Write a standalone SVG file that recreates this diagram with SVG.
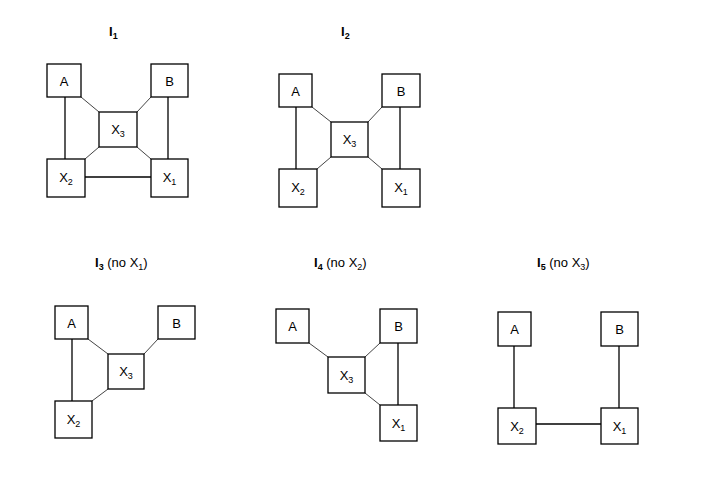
<svg xmlns="http://www.w3.org/2000/svg" width="715" height="479" viewBox="0 0 715 479">
  <style>
    .box { fill: #fff; stroke: #000; stroke-width: 1.3; }
    .edge { stroke: #000; stroke-width: 1.3; fill: none; }
    .diag { stroke: #444; stroke-width: 1; fill: none; }
    text { font-family: "Liberation Sans", Arial, sans-serif; font-size: 13px; fill: #000; }
    .lbl { text-anchor: middle; }
    .title { font-size: 13px; }
    .b { font-weight: bold; }
    .sub { font-size: 9px; }
  </style>
  <rect width="715" height="479" fill="#fff"/>

  <!-- Titles -->
  <g id="titles">
    <text class="title" x="109" y="36"><tspan class="b">I</tspan><tspan class="b sub" dy="3">1</tspan></text>
    <text class="title" x="341" y="36"><tspan class="b">I</tspan><tspan class="b sub" dy="3">2</tspan></text>
    <text class="title" x="95" y="267"><tspan class="b">I</tspan><tspan class="b sub" dy="3">3</tspan><tspan dy="-3"> (no X</tspan><tspan class="sub" dy="3">1</tspan><tspan dy="-3">)</tspan></text>
    <text class="title" x="314" y="267"><tspan class="b">I</tspan><tspan class="b sub" dy="3">4</tspan><tspan dy="-3"> (no X</tspan><tspan class="sub" dy="3">2</tspan><tspan dy="-3">)</tspan></text>
    <text class="title" x="537" y="267"><tspan class="b">I</tspan><tspan class="b sub" dy="3">5</tspan><tspan dy="-3"> (no X</tspan><tspan class="sub" dy="3">3</tspan><tspan dy="-3">)</tspan></text>
  </g>

  <!-- Connectors -->
  <g id="connectors">
    <!-- I1 -->
    <line class="edge" x1="65" y1="97" x2="65" y2="159"/>
    <line class="edge" x1="168" y1="97" x2="168" y2="159"/>
    <line class="edge" x1="85" y1="177" x2="151" y2="177"/>
    <line class="diag" x1="81" y1="97" x2="99" y2="112"/>
    <line class="diag" x1="151" y1="97" x2="137" y2="112"/>
    <line class="diag" x1="99" y1="147" x2="85" y2="159"/>
    <line class="diag" x1="137" y1="147" x2="151" y2="159"/>
    <!-- I2 -->
    <line class="edge" x1="296" y1="107" x2="296" y2="169"/>
    <line class="edge" x1="400" y1="107" x2="400" y2="169"/>
    <line class="diag" x1="312" y1="107" x2="331" y2="122"/>
    <line class="diag" x1="382" y1="107" x2="368" y2="122"/>
    <line class="diag" x1="331" y1="157" x2="317" y2="169"/>
    <line class="diag" x1="368" y1="157" x2="382" y2="169"/>
    <!-- I3 -->
    <line class="edge" x1="72" y1="339" x2="72" y2="401"/>
    <line class="diag" x1="88" y1="339" x2="108" y2="354"/>
    <line class="diag" x1="158" y1="339" x2="144" y2="354"/>
    <line class="diag" x1="108" y1="389" x2="92" y2="401"/>
    <!-- I4 -->
    <line class="edge" x1="398" y1="343" x2="398" y2="405"/>
    <line class="diag" x1="309" y1="343" x2="328" y2="357"/>
    <line class="diag" x1="380" y1="343" x2="365" y2="357"/>
    <line class="diag" x1="365" y1="393" x2="380" y2="405"/>
    <!-- I5 -->
    <line class="edge" x1="514" y1="346" x2="514" y2="408"/>
    <line class="edge" x1="619" y1="346" x2="619" y2="408"/>
    <line class="edge" x1="536" y1="424" x2="601" y2="424"/>
  </g>

  <!-- I1 nodes -->
  <g id="i1-a"><rect class="box" x="47" y="64" width="34" height="33"/><text class="lbl" x="64" y="85.5">A</text></g>
  <g id="i1-b"><rect class="box" x="151" y="64" width="37" height="33"/><text class="lbl" x="169.5" y="85.5">B</text></g>
  <g id="i1-x3"><rect class="box" x="99" y="112" width="38" height="35"/><text class="lbl" x="118" y="134">X<tspan class="sub" dy="3">3</tspan></text></g>
  <g id="i1-x2"><rect class="box" x="47" y="159" width="38" height="38"/><text class="lbl" x="66" y="182">X<tspan class="sub" dy="3">2</tspan></text></g>
  <g id="i1-x1"><rect class="box" x="151" y="159" width="37" height="38"/><text class="lbl" x="169.5" y="182">X<tspan class="sub" dy="3">1</tspan></text></g>

  <!-- I2 nodes -->
  <g id="i2-a"><rect class="box" x="279" y="74" width="33" height="33"/><text class="lbl" x="295.5" y="95.5">A</text></g>
  <g id="i2-b"><rect class="box" x="382" y="74" width="38" height="33"/><text class="lbl" x="401" y="95.5">B</text></g>
  <g id="i2-x3"><rect class="box" x="331" y="122" width="37" height="35"/><text class="lbl" x="349.5" y="144">X<tspan class="sub" dy="3">3</tspan></text></g>
  <g id="i2-x2"><rect class="box" x="279" y="169" width="38" height="38"/><text class="lbl" x="298" y="192">X<tspan class="sub" dy="3">2</tspan></text></g>
  <g id="i2-x1"><rect class="box" x="382" y="169" width="38" height="38"/><text class="lbl" x="401" y="192">X<tspan class="sub" dy="3">1</tspan></text></g>

  <!-- I3 nodes -->
  <g id="i3-a"><rect class="box" x="55" y="306" width="33" height="33"/><text class="lbl" x="71.5" y="327.5">A</text></g>
  <g id="i3-b"><rect class="box" x="158" y="306" width="37" height="33"/><text class="lbl" x="176.5" y="327.5">B</text></g>
  <g id="i3-x3"><rect class="box" x="108" y="354" width="36" height="35"/><text class="lbl" x="126" y="376">X<tspan class="sub" dy="3">3</tspan></text></g>
  <g id="i3-x2"><rect class="box" x="55" y="401" width="37" height="37"/><text class="lbl" x="73.5" y="424">X<tspan class="sub" dy="3">2</tspan></text></g>

  <!-- I4 nodes -->
  <g id="i4-a"><rect class="box" x="276" y="309" width="33" height="34"/><text class="lbl" x="292.5" y="331">A</text></g>
  <g id="i4-b"><rect class="box" x="380" y="309" width="37" height="34"/><text class="lbl" x="398.5" y="331">B</text></g>
  <g id="i4-x3"><rect class="box" x="328" y="357" width="37" height="36"/><text class="lbl" x="346.5" y="380">X<tspan class="sub" dy="3">3</tspan></text></g>
  <g id="i4-x1"><rect class="box" x="380" y="405" width="37" height="36"/><text class="lbl" x="398.5" y="428">X<tspan class="sub" dy="3">1</tspan></text></g>

  <!-- I5 nodes -->
  <g id="i5-a"><rect class="box" x="498" y="312" width="33" height="34"/><text class="lbl" x="514.5" y="334">A</text></g>
  <g id="i5-b"><rect class="box" x="601" y="312" width="37" height="34"/><text class="lbl" x="619.5" y="334">B</text></g>
  <g id="i5-x2"><rect class="box" x="498" y="408" width="38" height="36"/><text class="lbl" x="517" y="431">X<tspan class="sub" dy="3">2</tspan></text></g>
  <g id="i5-x1"><rect class="box" x="601" y="408" width="37" height="36"/><text class="lbl" x="619.5" y="431">X<tspan class="sub" dy="3">1</tspan></text></g>
</svg>
